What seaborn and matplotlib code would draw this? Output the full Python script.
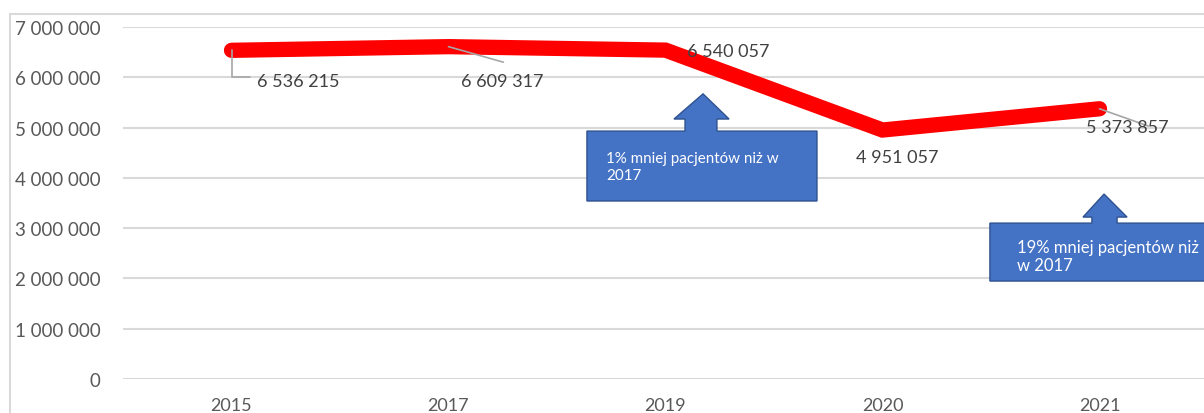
import matplotlib
matplotlib.use("Agg")
import matplotlib.pyplot as plt
from matplotlib.patches import Polygon, Rectangle
from matplotlib.ticker import FuncFormatter
import seaborn as sns
import pandas as pd

years = ["2015", "2017", "2019", "2020", "2021"]
patients = [6536215, 6609317, 6540057, 4951057, 5373857]
value_labels = ["6 536 215", "6 609 317", "6 540 057", "4 951 057", "5 373 857"]
callout_texts = ["1% mniej pacjentów niż w\n2017", "19% mniej pacjentów niż\nw 2017"]

sns.set_theme(style="white")
plt.rcParams["font.family"] = ["Lato", "DejaVu Sans"]

df = pd.DataFrame({"rok": years, "pacjenci": patients})

fig = plt.figure(figsize=(12.04, 4.14), dpi=100)
ax = fig.add_axes([123 / 1204, (414 - 380) / 414, 1085 / 1204, 352 / 414])

# outer chart frame
fig.add_artist(Rectangle((10 / 1204, -0.1), 1.2, (414 - 15) / 414 + 0.1,
                         transform=fig.transFigure, fill=False,
                         edgecolor="#D9D9D9", linewidth=1.5))

ax.set_ylim(0, 7_000_000)
ax.set_xlim(-0.5, 4.5)
ax.set_yticks(range(0, 7_000_001, 1_000_000))
ax.yaxis.set_major_formatter(FuncFormatter(lambda v, p: f"{int(v):,}".replace(",", " ")))
ax.grid(axis="y", color="#D9D9D9", linewidth=1.5)
ax.grid(axis="x", visible=False)
for s in ax.spines.values():
    s.set_visible(False)
ax.tick_params(axis="y", length=0, pad=16, labelsize=13.5, labelcolor="#595959")
ax.tick_params(axis="x", length=0, pad=13, labelsize=13, labelcolor="#595959")

sns.lineplot(data=df, x="rok", y="pacjenci", ax=ax, color="#FF0000",
             linewidth=11, sort=False, solid_capstyle="round",
             solid_joinstyle="miter", zorder=3)
ax.set_xlabel("")
ax.set_ylabel("")

# data labels
lab_col = "#404040"
M = 1_000_000
label_pos = [(0.117, 5.92 * M, "left"), (1.247, 5.92 * M, "center"),
             (2.29, 6.53 * M, "center"), (3.07, 4.42 * M, "center"),
             (4.127, 5.01 * M, "center")]
for i, (lx, ly, ha) in enumerate(label_pos):
    ax.text(lx, ly, value_labels[i], ha=ha, va="center", fontsize=13,
            color=lab_col, zorder=5)

# leader lines
ax.plot([0, 0.0, 0.085], [patients[0], 6.0 * M, 6.0 * M], color="#A6A6A6", lw=1.2, zorder=4)
ax.plot([1, 1.253], [patients[1], 6.3 * M], color="#A6A6A6", lw=1.2, zorder=4)
ax.plot([4, 4.225], [patients[4], 5.03 * M], color="#A6A6A6", lw=1.2, zorder=4)


def callout(left, right, bottom, top, sl, sr, hl, hr, hb, tx, ty):
    pts = [(left, bottom), (right, bottom), (right, top), (sr, top), (sr, hb),
           (hr, hb), (tx, ty), (hl, hb), (sl, hb), (sl, top), (left, top)]
    ax.add_patch(Polygon(pts, closed=True, facecolor="#4472C4",
                         edgecolor="#2F528F", linewidth=1, zorder=6, clip_on=False))


callout(1.638, 2.698, 3.54 * M, 4.93 * M, 2.090, 2.237, 2.039, 2.293, 5.17 * M, 2.173, 5.67 * M)
ax.text(1.726, 4.225 * M, callout_texts[0], color="white", fontsize=10.9,
        ha="left", va="center", linespacing=1.2, zorder=7)

callout(3.495, 4.55, 1.948 * M, 3.10 * M, 3.965, 4.081, 3.924, 4.127, 3.22 * M, 4.021, 3.678 * M)
ax.text(3.62, 2.445 * M, callout_texts[1], color="white", fontsize=12,
        ha="left", va="center", linespacing=1.2, zorder=7)

fig.savefig("out.png", dpi=100)
